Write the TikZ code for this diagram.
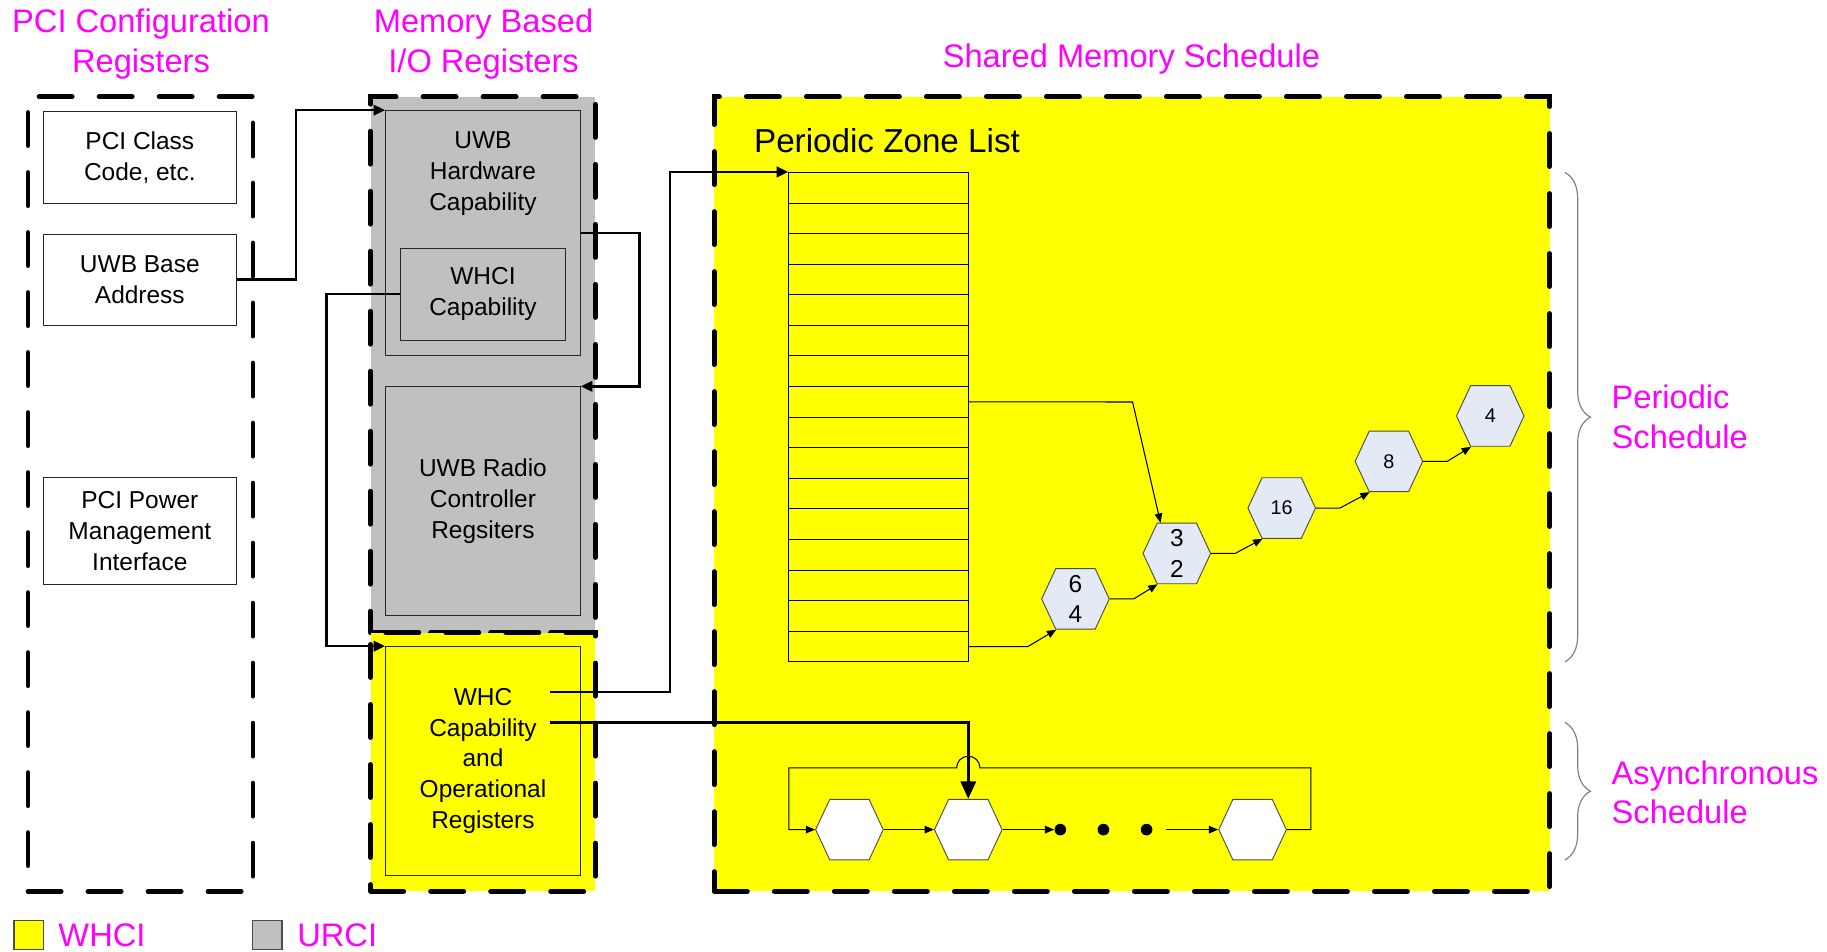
\documentclass[tikz,border=0pt]{standalone}
\usepackage{fontspec}
\setmainfont{Liberation Sans}
\usetikzlibrary{arrows.meta,shapes.symbols,decorations.pathreplacing}
\definecolor{myyellow}{HTML}{FFFF00}
\definecolor{mygray}{HTML}{C0C0C0}
\definecolor{mymag}{HTML}{FF00FF}
\definecolor{hexblue}{HTML}{E3EAF5}
\definecolor{bracegray}{HTML}{808080}
\begin{document}
\begin{tikzpicture}[x=1pt,y=1pt,
  dbox/.style={draw=black, line width=4pt, dash pattern=on 28.5pt off 23pt, line cap=round, inner sep=0pt},
  reg/.style={draw=black!85, line width=0.9pt, inner sep=0pt, align=center, font=\fontsize{21}{26.5}\selectfont},
  regtxt/.style={inner sep=0pt, align=center, font=\fontsize{21}{26.5}\selectfont},
  title/.style={text=mymag, font=\fontsize{28}{34}\selectfont, align=center, inner sep=0pt},
  conn/.style={line width=2.2pt, -{Triangle[length=10pt,width=9pt]}},
  bigconn/.style={line width=2.4pt, -{Triangle[length=15pt,width=13pt]}},
  thinarr/.style={line width=0.9pt, -{Triangle[length=8pt,width=6.5pt]}},
  hexa/.style={signal, signal to=west and east, signal pointer angle=130, minimum width=58pt, minimum height=52pt, inner sep=0pt, draw=black!70, line width=0.8pt, align=center},
  legsq/.style={draw=black!70, line width=0.9pt, minimum size=25pt, inner sep=0pt},
]
\useasboundingbox (0,0) rectangle (1568,-817);

% titles
\node[title] (t1) at (121,-38) {PCI Configuration\\Registers};
\node[title] (t2) at (415,-38) {Memory Based\\I/O Registers};
\node[title] (t3) at (971,-51) {Shared Memory Schedule};
\node[title, align=left, anchor=west] (t4) at (1383,-358) {Periodic\\Schedule};
\node[title, align=left, anchor=west] (t5) at (1383,-680) {Asynchronous\\Schedule};

% containers
\node[dbox, minimum width=193pt, minimum height=682pt] (pcibox) at (120.5,-424) {};
\node[dbox, fill=mygray, minimum width=193pt, minimum height=460pt] (urbox) at (414.5,-313) {};
\node[dbox, fill=myyellow, minimum width=193pt, minimum height=222pt] (whbox) at (414.5,-654) {};
\node[dbox, fill=myyellow, minimum width=717pt, minimum height=682pt] (shbox) at (971.5,-424) {};

% PCI registers
\node[reg, minimum width=166pt, minimum height=79pt] (pciclass) at (120,-135.5) {PCI Class\\Code, etc.};
\node[reg, minimum width=166pt, minimum height=78pt] (base) at (120,-240) {UWB Base\\Address};
\node[reg, minimum width=166pt, minimum height=92pt] (power) at (120,-456) {PCI Power\\Management\\Interface};

% memory based registers
\node[reg, minimum width=167pt, minimum height=210pt] (hw) at (414.5,-200) {};
\node[regtxt, anchor=north] (hwtxt) at (414.5,-113) {UWB\\Hardware\\Capability};
\node[reg, minimum width=141pt, minimum height=79pt] (whcicap) at (414.5,-252.5) {WHCI\\Capability};
\node[reg, minimum width=167pt, minimum height=196pt] (radio) at (414.5,-430) {UWB Radio\\Controller\\Regsiters};
\node[reg, minimum width=167pt, minimum height=196pt] (whc) at (414.5,-653) {WHC\\Capability\\and\\Operational\\Registers};

% connectors between register blocks
\draw[conn] (base.east) -- (254,-240) |- (hw.north west);
\draw[conn] (whcicap.west) -- (280,-252.5) |- (whc.north west);
\draw[conn] (hw.east) -- (549,-200) |- (radio.north east);

% periodic zone list
\node[anchor=west, inner sep=0pt, font=\fontsize{28.5}{33}\selectfont] (pzl) at (647,-121) {Periodic Zone List};
\node[draw=black, line width=0.9pt, minimum width=154pt, minimum height=420pt, inner sep=0pt] (zl) at (754,-358) {};
\foreach \i in {1,...,15} {
  \draw[line width=0.9pt] (677,{-148-\i*26.25}) -- (831,{-148-\i*26.25});
}
\coordinate (r8) at (831,-344.9);
\coordinate (r16) at (831,-554.9);

\coordinate (w1) at (472,-594);
\coordinate (w2) at (472,-620);
\draw[conn] (w1) -- (575,-594) |- (zl.north west);

% periodic hexagons
\node[hexa, fill=hexblue, font=\fontsize{21}{26}\selectfont] (h64) at (923,-514) {6\\4};
\node[hexa, fill=hexblue, font=\fontsize{21}{26}\selectfont] (h32) at (1010,-475) {3\\2};
\node[hexa, fill=hexblue, font=\fontsize{17}{20}\selectfont] (h16) at (1100,-436) {16};
\node[hexa, fill=hexblue, font=\fontsize{17}{20}\selectfont] (h8) at (1192,-396) {8};
\node[hexa, fill=hexblue, font=\fontsize{17}{20}\selectfont] (h4) at (1279,-357) {4};

\draw[thinarr] (r8) -- (972,-345) -- (h32.118);
\draw[thinarr] (r16) -- (882,-555) -- (h64.238);
\draw[thinarr] (h64.east) -- (973,-514) -- (h32.238);
\draw[thinarr] (h32.east) -- (1060,-475) -- (h16.238);
\draw[thinarr] (h16.east) -- (1150,-436) -- (h8.238);
\draw[thinarr] (h8.east) -- (1242,-396) -- (h4.238);

% asynchronous list
\node[hexa, fill=white] (a1) at (729,-712) {};
\node[hexa, fill=white] (a2) at (831,-712) {};
\node[hexa, fill=white] (a3) at (1075,-712) {};
\node[circle, fill=black, inner sep=0pt, minimum size=10pt] (d1) at (910,-712) {};
\node[circle, fill=black, inner sep=0pt, minimum size=10pt] (d2) at (947,-712) {};
\node[circle, fill=black, inner sep=0pt, minimum size=10pt] (d3) at (984,-712) {};
\coordinate (d4) at (1001,-712);
\draw[thinarr] (a1.east) -- (a2.west);
\draw[thinarr] (a2.east) -- (d1.west);
\draw[thinarr] (d4) -- (a3.west);
\draw[thinarr] (a3.east) -- (1125,-712) -- (1125,-659) -- (841,-659) arc[start angle=0, end angle=180, radius=10] -- (677,-659) -- (677,-712) -- (a1.west);

\draw[bigconn] (w2) -- (831,-620) -- (a2.north);

% braces
\draw[bracegray, line width=1pt, decorate, decoration={brace, amplitude=22pt}] (1343,-148) -- (1343,-568);
\draw[bracegray, line width=1pt, decorate, decoration={brace, amplitude=22pt}] (1343,-620) -- (1343,-738);

% legend
\node[legsq, fill=myyellow] (l1) at (24.5,-802.5) {};
\node[title, anchor=west] (l1t) at (50,-803) {WHCI};
\node[legsq, fill=mygray] (l2) at (229.5,-802.5) {};
\node[title, anchor=west] (l2t) at (255,-803) {URCI};
\end{tikzpicture}
\end{document}
